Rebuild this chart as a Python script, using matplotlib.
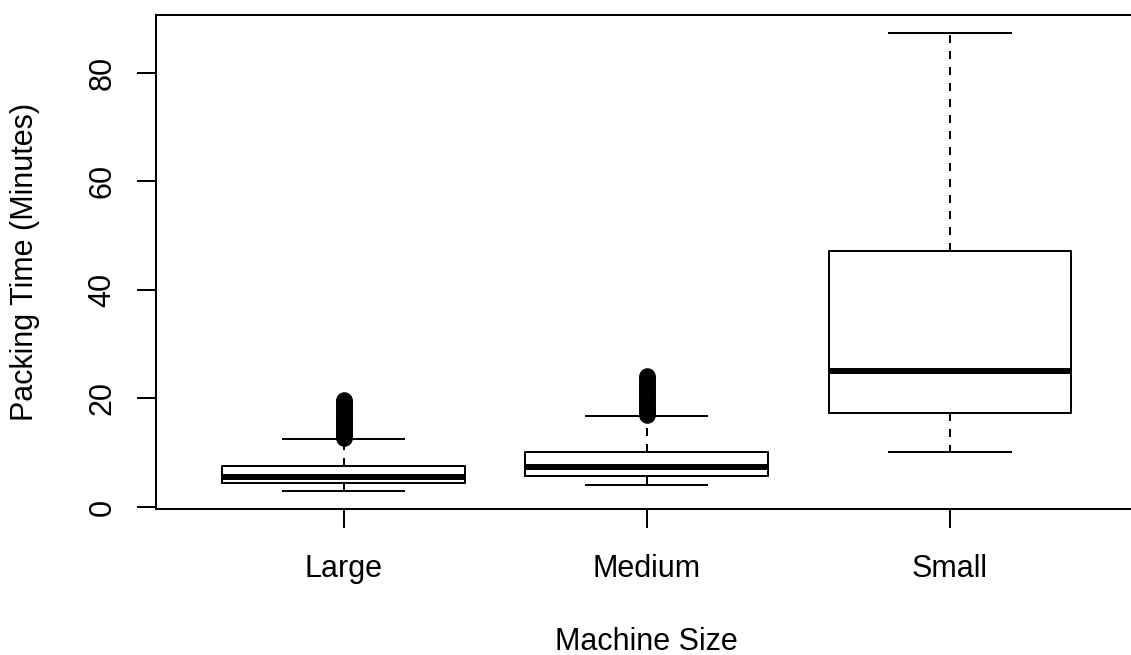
import matplotlib
matplotlib.use("Agg")
import matplotlib.pyplot as plt

plt.rcParams['font.family'] = ['Liberation Sans', 'DejaVu Sans']

categories = ["Large", "Medium", "Small"]
whisker_low = [3.0, 4.0, 10.2]
q1 = [4.4, 5.8, 17.3]
median = [5.6, 7.3, 25.0]
q3 = [7.6, 10.2, 47.1]
whisker_high = [12.45, 16.8, 87.3]
outliers_large = [12.7, 12.9, 13.2, 13.5, 13.8, 14.1, 14.4, 14.6, 14.9, 15.2,
                  15.5, 15.8, 16.1, 16.4, 16.6, 16.9, 17.2, 17.5, 17.8, 18.1,
                  18.4, 18.7, 19.0, 19.2, 19.5, 19.8]
outliers_medium = [16.9, 17.2, 17.5, 17.7, 18.0, 18.3, 18.6, 18.9, 19.2, 19.5,
                   19.8, 20.1, 20.3, 20.6, 20.9, 21.2, 21.5, 21.8, 22.1, 22.4,
                   22.7, 22.9, 23.2, 23.5, 23.8, 24.1]
outliers_small = []
yticks = [0, 20, 40, 60, 80]
xlabel = "Machine Size"
ylabel = "Packing Time (Minutes)"

W, H = 1131, 655
FS = 22
fig = plt.figure(figsize=(W / 100, H / 100), dpi=100)
left, right, top, bottom = 155.5, 1138, 15, 509
ax = fig.add_axes([left / W, 1 - bottom / H, (right - left) / W, (bottom - top) / H])

lw = 1.44
fliers = [outliers_large, outliers_medium, outliers_small]
stats = []
for i, c in enumerate(categories):
    stats.append(dict(label=c, whislo=whisker_low[i], q1=q1[i], med=median[i],
                      q3=q3[i], whishi=whisker_high[i], fliers=fliers[i]))

ax.bxp(stats, positions=[1, 2, 3], widths=0.8, capwidths=0.4, showfliers=True,
       boxprops=dict(color='black', linewidth=lw),
       medianprops=dict(color='black', linewidth=4.3, solid_capstyle='butt'),
       whiskerprops=dict(color='black', linewidth=lw, linestyle=(0, (4, 4))),
       capprops=dict(color='black', linewidth=lw),
       flierprops=dict(marker='o', markerfacecolor='black', markeredgecolor='black',
                       markersize=10.5, markeredgewidth=lw, linestyle='none'))

allv = whisker_low + whisker_high + outliers_large + outliers_medium
ymin, ymax = min(allv), max(allv)
rng = ymax - ymin
ax.set_ylim(ymin - 0.04 * rng, ymax + 0.04 * rng)
ax.set_xlim(0.38, 3.62)

for s in ax.spines.values():
    s.set_linewidth(lw)
    s.set_color('black')

ax.set_yticks(yticks)
ax.set_yticklabels([str(t) for t in yticks])
ax.set_xticks([1, 2, 3])
ax.set_xticklabels(categories)
ax.tick_params(axis='both', direction='out', length=13.7, width=lw, labelsize=FS,
               colors='black')
ax.tick_params(axis='y', pad=18.7)
ax.tick_params(axis='x', pad=35.3)
for lbl in ax.get_yticklabels():
    lbl.set_rotation(90)
    lbl.set_rotation_mode('anchor')
    lbl.set_ha('center')
    lbl.set_va('baseline')
for lbl in ax.get_xticklabels():
    lbl.set_va('baseline')

fig.text(33 / W, 1 - 262 / H, ylabel, rotation=90, rotation_mode='anchor',
         ha='center', va='baseline', fontsize=FS)
fig.text(646.5 / W, 1 - 650 / H, xlabel, ha='center', va='baseline', fontsize=FS)

fig.savefig("out.png", dpi=100)
